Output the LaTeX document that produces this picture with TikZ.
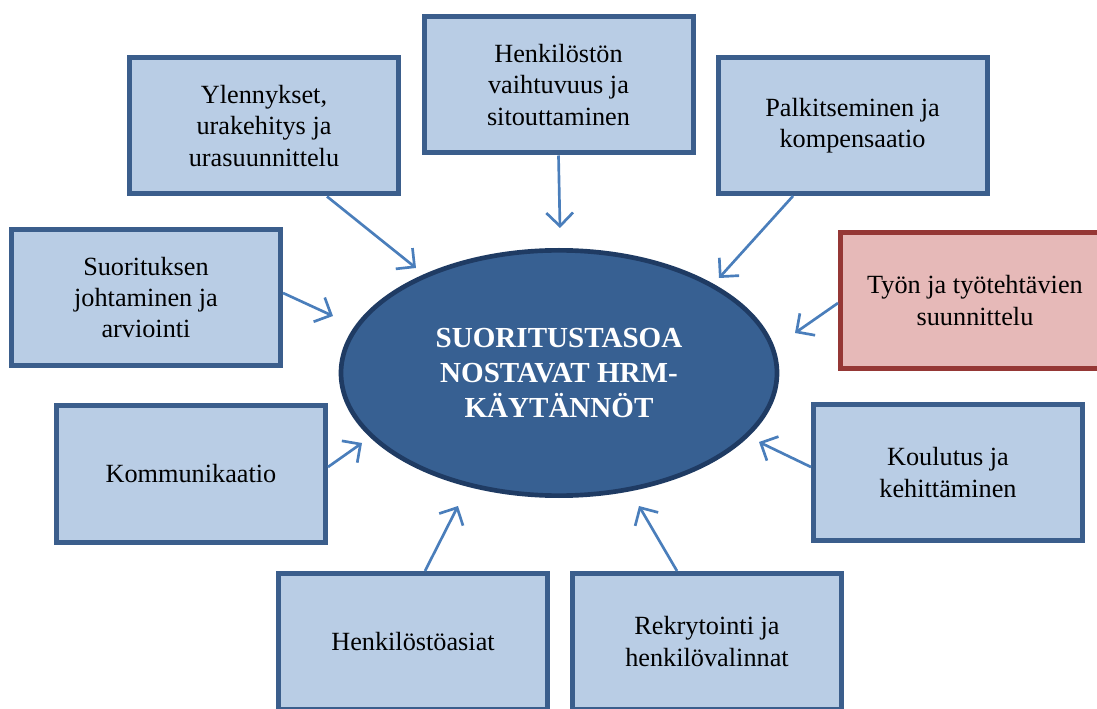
\documentclass[tikz,border=0pt]{standalone}
\usepackage{fontspec}
\setmainfont{Liberation Serif}
\usetikzlibrary{arrows.meta,shapes.geometric}
\definecolor{boxfill}{HTML}{B9CDE5}
\definecolor{boxdraw}{HTML}{3B5E8C}
\definecolor{redfill}{HTML}{E6B9B8}
\definecolor{reddraw}{HTML}{953735}
\definecolor{ellfill}{HTML}{376092}
\definecolor{elldraw}{HTML}{1F3B63}
\definecolor{arrowc}{HTML}{4A7EBB}
\begin{document}
\begin{tikzpicture}[x=0.75pt,y=-0.75pt,
  box/.style={draw=boxdraw, fill=boxfill, line width=3.75pt,
    minimum width=201.75pt, minimum height=102pt, inner sep=0pt,
    align=center, font=\fontsize{19.7}{23.3}\selectfont},
  redbox/.style={box, draw=reddraw, fill=redfill},
  centre/.style={ellipse, draw=elldraw, fill=ellfill, line width=3.5pt,
    minimum width=327pt, minimum height=184pt, inner sep=0pt,
    align=center, text=white, font=\fontsize{21.8}{25.9}\selectfont\bfseries},
  arr/.style={draw=arrowc, line width=2pt, -{Straight Barb[length=10pt,width=20pt]}}]
\useasboundingbox (0,0) rectangle (1097,709);

\node[centre] (c) at (559,373) {SUORITUSTASOA\\NOSTAVAT HRM-\\KÄYTÄNNÖT};

\node[box] (b1) at (264,126) {Ylennykset,\\urakehitys ja\\urasuunnittelu};
\node[box] (b2) at (558.5,85) {Henkilöstön\\vaihtuvuus ja\\sitouttaminen};
\node[box] (b3) at (852.5,125.5) {Palkitseminen ja\\kompensaatio};
\node[redbox] (b4) at (975,300.5) {Työn ja työtehtävien\\suunnittelu};
\node[box] (b5) at (146,297.5) {Suorituksen\\johtaminen ja\\arviointi};
\node[box] (b6) at (191,474) {Kommunikaatio};
\node[box] (b7) at (948,472.5) {Koulutus ja\\kehittäminen};
\node[box] (b8) at (413,641.5) {Henkilöstöasiat};
\node[box] (b9) at (707,641.5) {Rekrytointi ja\\henkilövalinnat};

\coordinate (t1) at (416,268);
\coordinate (t2) at (560,228);
\coordinate (t3) at (719,278);
\coordinate (t4) at (795,333);
\coordinate (t5) at (333,316);
\coordinate (t6) at (362,443);
\coordinate (t7) at (759,442);
\coordinate (t8) at (458,506);
\coordinate (t9) at (639,506);

\draw[arr] ([xshift=47.25pt]b1.south) -- (t1);
\draw[arr] (b2.south) -- (t2);
\draw[arr] ([xshift=-44.6pt]b3.south) -- (t3);
\draw[arr] ([yshift=-1.9pt]b4.west) -- (t4);
\draw[arr] ([yshift=3.4pt]b5.east) -- (t5);
\draw[arr] ([yshift=5.25pt]b6.east) -- (t6);
\draw[arr] ([yshift=4.1pt]b7.west) -- (t7);
\draw[arr] ([xshift=9pt]b8.north) -- (t8);
\draw[arr] ([xshift=-22.5pt]b9.north) -- (t9);
\end{tikzpicture}
\end{document}
